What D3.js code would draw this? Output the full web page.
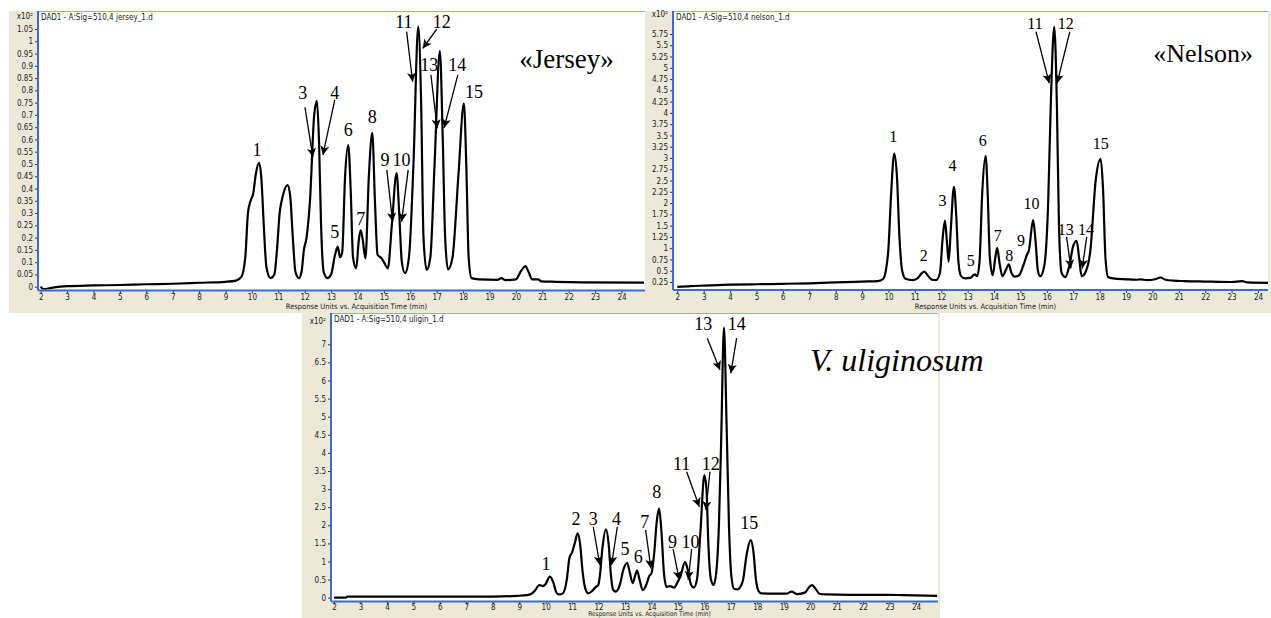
<!DOCTYPE html>
<html>
<head>
<meta charset="utf-8" />
<title>HPLC chromatograms</title>
<style>
body { margin: 0; background: #fff; }
svg { display: block; }
.tick text { font: 8px "Liberation Sans Narrow", "DejaVu Sans Condensed", sans-serif; fill: #222; }
.tick line { stroke: #333; }
.small { font: 8px "Liberation Sans Narrow", "DejaVu Sans Condensed", sans-serif; fill: #222; }
.axis-title { font: 7.5px "Liberation Sans Narrow", "DejaVu Sans Condensed", sans-serif; fill: #222; }
.peak { font-family: "Liberation Serif", "DejaVu Serif", serif; fill: #000; }
.trace { fill: none; stroke: #000; stroke-width: 2.2px; stroke-linejoin: round; }
.arrow { stroke: #000; stroke-width: 1.3px; }
</style>
</head>
<body>
<script src="https://cdn.jsdelivr.net/npm/d3@7"></script>
<script>

// retention time ticks (min), shared by all three traces
var timeTicks = [2,3,4,5,6,7,8,9,10,11,12,13,14,15,16,17,18,19,20,21,22,23,24];

var jerseyTicks = [0,0.05,0.1,0.15,0.2,0.25,0.3,0.35,0.4,0.45,0.5,0.55,0.6,0.65,0.7,0.75,0.8,0.85,0.9,0.95,1,1.05];
var nelsonTicks = [0.25,0.5,0.75,1,1.25,1.5,1.75,2,2.25,2.5,2.75,3,3.25,3.5,3.75,4,4.25,4.5,4.75,5,5.25,5.5,5.75];
var uligTicks = [0,0.5,1,1.5,2,2.5,3,3.5,4,4.5,5,5.5,6,6.5,7];

// [time, response]
var jerseyTrace = [[2.0,0.0],[2.1,-0.01],[2.4,-0.005],[3,0.002],[4,0.005],[5,0.007],[6,0.01],[7,0.012],[8,0.016],[9,0.02],[9.4,0.025],[9.6,0.04],[9.75,0.12],[9.85,0.3],[9.95,0.35],[10.05,0.38],[10.15,0.46],[10.27,0.505],[10.36,0.44],[10.45,0.25],[10.55,0.08],[10.7,0.035],[10.85,0.05],[10.95,0.15],[11.05,0.3],[11.15,0.36],[11.35,0.414],[11.45,0.37],[11.55,0.2],[11.65,0.06],[11.78,0.035],[11.88,0.06],[11.97,0.15],[12.07,0.2],[12.2,0.35],[12.36,0.7],[12.46,0.757],[12.54,0.6],[12.62,0.25],[12.72,0.06],[12.86,0.035],[13.0,0.05],[13.15,0.13],[13.25,0.163],[13.34,0.12],[13.42,0.14],[13.53,0.45],[13.65,0.577],[13.74,0.4],[13.83,0.12],[13.95,0.075],[14.05,0.19],[14.12,0.23],[14.2,0.19],[14.3,0.115],[14.43,0.45],[14.56,0.627],[14.66,0.35],[14.76,0.13],[14.9,0.117],[15.0,0.1],[15.15,0.075],[15.3,0.25],[15.48,0.463],[15.58,0.3],[15.68,0.1],[15.8,0.055],[15.95,0.12],[16.12,0.5],[16.3,1.06],[16.41,0.75],[16.5,0.2],[16.62,0.068],[16.76,0.12],[16.92,0.5],[17.12,0.96],[17.23,0.6],[17.32,0.2],[17.43,0.07],[17.6,0.12],[17.82,0.45],[18.03,0.747],[18.12,0.5],[18.21,0.12],[18.32,0.035],[18.6,0.03],[19.3,0.028],[19.45,0.035],[19.6,0.027],[20.0,0.03],[20.2,0.065],[20.36,0.084],[20.48,0.06],[20.62,0.03],[20.85,0.03],[20.95,0.022],[21.5,0.02],[22.5,0.018],[24.85,0.017]];

var nelsonTrace = [[2.0,0.14],[2.5,0.16],[3,0.17],[4,0.19],[5,0.2],[6,0.21],[7,0.22],[8,0.24],[9,0.26],[9.6,0.27],[9.8,0.32],[9.9,0.5],[10.0,1.0],[10.1,2.2],[10.22,3.1],[10.32,2.6],[10.42,1.2],[10.52,0.5],[10.65,0.32],[10.9,0.29],[11.1,0.33],[11.25,0.44],[11.36,0.48],[11.48,0.4],[11.65,0.3],[11.8,0.29],[11.95,0.45],[12.05,1.2],[12.14,1.61],[12.22,1.1],[12.28,0.7],[12.36,1.4],[12.48,2.36],[12.57,1.7],[12.65,0.7],[12.75,0.38],[12.9,0.33],[13.1,0.34],[13.22,0.4],[13.28,0.42],[13.36,0.38],[13.45,0.7],[13.55,2.2],[13.68,3.05],[13.76,2.2],[13.84,0.8],[13.95,0.4],[14.05,0.8],[14.12,1.01],[14.2,0.7],[14.32,0.38],[14.45,0.52],[14.56,0.64],[14.66,0.45],[14.79,0.37],[14.95,0.4],[15.1,0.6],[15.25,0.86],[15.32,0.95],[15.48,1.62],[15.58,1.1],[15.66,0.5],[15.75,0.38],[15.9,0.6],[16.05,2.0],[16.15,4.2],[16.28,5.91],[16.38,4.2],[16.46,1.5],[16.56,0.45],[16.7,0.36],[16.85,0.6],[17.0,1.05],[17.13,1.16],[17.22,0.8],[17.32,0.38],[17.45,0.45],[17.65,0.95],[17.85,2.5],[18.04,2.98],[18.13,2.3],[18.22,0.8],[18.32,0.36],[18.5,0.33],[19.0,0.31],[19.4,0.3],[19.55,0.31],[19.8,0.29],[20.1,0.31],[20.3,0.35],[20.5,0.3],[20.8,0.28],[21.2,0.27],[22,0.26],[23,0.25],[23.4,0.27],[23.6,0.24],[24.4,0.23]];

var uligTrace = [[2.0,0.0],[2.45,0.0],[2.5,0.03],[4,0.03],[6,0.03],[8,0.03],[8.9,0.05],[9.3,0.07],[9.45,0.1],[9.6,0.2],[9.76,0.35],[9.9,0.32],[10.0,0.38],[10.16,0.58],[10.3,0.4],[10.4,0.15],[10.5,0.09],[10.65,0.12],[10.8,0.5],[10.9,1.1],[11.0,1.25],[11.1,1.5],[11.21,1.78],[11.3,1.5],[11.4,0.7],[11.5,0.25],[11.61,0.12],[11.75,0.18],[11.9,0.3],[11.99,0.35],[12.05,0.6],[12.15,1.4],[12.28,1.89],[12.38,1.5],[12.47,0.6],[12.55,0.22],[12.65,0.17],[12.8,0.35],[12.95,0.8],[13.08,0.96],[13.18,0.7],[13.29,0.4],[13.38,0.6],[13.46,0.75],[13.55,0.5],[13.67,0.21],[13.8,0.35],[13.92,0.6],[14.0,0.67],[14.1,1.2],[14.2,2.1],[14.29,2.47],[14.38,1.8],[14.47,0.7],[14.57,0.3],[14.7,0.32],[14.85,0.28],[15.0,0.45],[15.1,0.6],[15.27,0.99],[15.38,0.75],[15.5,0.35],[15.6,0.28],[15.72,0.5],[15.85,1.8],[16.0,3.39],[16.08,3.0],[16.15,1.5],[16.25,0.5],[16.35,0.35],[16.45,0.7],[16.55,2.0],[16.64,4.5],[16.74,7.46],[16.84,4.8],[16.93,2.0],[17.02,0.6],[17.12,0.25],[17.25,0.23],[17.45,0.45],[17.6,1.2],[17.75,1.59],[17.85,1.3],[17.95,0.5],[18.05,0.18],[18.15,0.12],[18.6,0.11],[19.1,0.11],[19.3,0.17],[19.5,0.1],[19.8,0.14],[19.95,0.28],[20.07,0.35],[20.2,0.25],[20.35,0.11],[20.6,0.09],[21.5,0.08],[23.0,0.08],[23.5,0.07],[24.8,0.05]];

// peak numbers: [label, time, response]
var jerseyLabels = [["1",10.19,0.557],["3",11.93,0.789],["4",13.14,0.789],["5",13.14,0.223],["6",13.65,0.639],["7",14.12,0.279],["8",14.56,0.693],["9",15.04,0.516],["10",15.67,0.516],["11",15.76,1.08],["12",17.19,1.08],["13",16.72,0.903],["14",17.78,0.903],["15",18.41,0.795]];
var nelsonLabels = [["1",10.18,3.47],["2",11.34,0.85],["3",12.05,2.07],["4",12.43,2.84],["5",13.12,0.74],["6",13.57,3.4],["7",14.14,1.29],["8",14.58,0.83],["9",15.02,1.17],["10",15.42,2.0],["11",15.55,5.99],["12",16.72,5.99],["13",16.72,1.42],["14",17.48,1.42],["15",18.04,3.33]];
var uligLabels = [["1",10.01,0.95],["2",11.15,2.19],["3",11.8,2.19],["4",12.68,2.19],["5",13.0,1.34],["6",13.5,1.13],["7",13.75,2.1],["8",14.2,2.93],["9",14.8,1.55],["10",15.48,1.55],["11",15.14,3.71],["12",16.24,3.71],["13",15.96,7.58],["14",17.22,7.58],["15",17.7,2.07]];

// arrows: [t1, v1, t2, v2] (tail -> head)
var jerseyArrows = [[12.01,0.731,12.31,0.528],[13.14,0.761,12.69,0.537],[15.11,0.476,15.33,0.265],[15.92,0.476,15.67,0.265],[15.86,1.039,16.09,0.835],[17.0,1.049,16.47,0.971],[16.78,0.863,17.02,0.645],[17.8,0.863,17.28,0.647]];
var nelsonArrows = [[15.59,5.8,16.09,4.66],[16.87,5.8,16.39,4.66],[16.75,1.25,16.91,0.55],[17.51,1.25,17.34,0.55]];
var uligArrows = [[11.8,1.96,12.05,0.9],[12.71,1.96,12.49,0.9],[13.78,1.87,13.98,0.81],[14.82,1.34,15.05,0.49],[15.52,1.34,15.39,0.49],[15.33,3.48,15.81,2.51],[16.21,3.48,16.06,2.42],[16.11,7.17,16.59,6.29],[17.22,7.17,17.0,6.2]];

var panels = [
  { id: "jersey", file: "DAD1 - A:Sig=510,4 jersey_1.d", trace: jerseyTrace, yTicks: jerseyTicks,
    labels: jerseyLabels, arrows: jerseyArrows, labelSize: 18,
    title: "«Jersey»", titleAt: [21.92, 0.931], titleSize: 27, titleAnchor: "middle", titleItalic: false,
    frame: [9, 11, 636, 302], plot: [38, 11, 645, 290.5], axisTitleY: 309, xPad: 1, axisTitleSize: 7.5,
    xRange: [40.7, 621.5], yDomain: [0, 1.05], yRange: [286.7, 29], unitY: 19 },
  { id: "nelson", file: "DAD1 - A:Sig=510,4 nelson_1.d", trace: nelsonTrace, yTicks: nelsonTicks,
    labels: nelsonLabels, arrows: nelsonArrows, labelSize: 16,
    title: "«Nelson»", titleAt: [21.92, 5.32], titleSize: 26, titleAnchor: "middle", titleItalic: false,
    frame: [645, 11, 626, 302], plot: [673, 11, 1268, 290], axisTitleY: 309, xPad: 1, axisTitleSize: 7.5,
    xRange: [677.3, 1258], yDomain: [0.25, 5.75], yRange: [282, 34], unitY: 17 },
  { id: "ulig", file: "DAD1 - A:Sig=510,4 uligin_1.d", trace: uligTrace, yTicks: uligTicks,
    labels: uligLabels, arrows: uligArrows, labelSize: 18,
    title: "V. uliginosum", titleAt: [19.99, 6.57], titleSize: 32, titleAnchor: "start", titleItalic: true,
    frame: [302, 313, 638, 305], plot: [331, 313, 938, 601.5], axisTitleY: 616.2, xPad: 0, axisTitleSize: 6.5,
    xRange: [334, 916], yDomain: [0, 7], yRange: [597.7, 344.3], unitY: 324 }
];

var width = 1271, height = 618;

var svg = d3.select("body").append("svg")
    .attr("width", width)
    .attr("height", height);

svg.append("rect").attr("width", width).attr("height", height).attr("fill", "#fff");

var defs = svg.append("defs");
defs.append("marker")
    .attr("id", "head")
    .attr("viewBox", "0 0 10 10")
    .attr("refX", 10)
    .attr("refY", 5)
    .attr("markerWidth", 12)
    .attr("markerHeight", 9)
    .attr("markerUnits", "userSpaceOnUse")
    .attr("orient", "auto")
  .append("path")
    .attr("d", "M0,0 L10,5 L0,10 L2.5,5 Z")
    .attr("fill", "#000");

panels.forEach(drawPanel);

function drawPanel(p) {
    var g = svg.append("g").attr("class", "panel " + p.id);
    var left = p.plot[0], top = p.plot[1], right = p.plot[2], bottom = p.plot[3];

    g.append("rect")
        .attr("x", p.frame[0]).attr("y", p.frame[1])
        .attr("width", p.frame[2]).attr("height", p.frame[3])
        .attr("fill", "#ECE9D8");
    g.append("rect")
        .attr("x", left).attr("y", top)
        .attr("width", right - left).attr("height", bottom - top)
        .attr("fill", "#fff");

    var x = d3.scaleLinear().domain([2, 24]).range(p.xRange);
    var y = d3.scaleLinear().domain(p.yDomain).range(p.yRange);

    defs.append("clipPath").attr("id", "clip-" + p.id)
      .append("rect")
        .attr("x", left).attr("y", top)
        .attr("width", right - left).attr("height", bottom - top - 1);

    // axes (ticks + labels only, the blue frame lines are drawn below)
    var yAxis = g.append("g")
        .attr("transform", "translate(" + left + ",0)")
        .call(d3.axisLeft(y).tickValues(p.yTicks).tickSize(3).tickPadding(2).tickFormat(d3.format("~g")));
    yAxis.select(".domain").remove();

    var xAxis = g.append("g")
        .attr("transform", "translate(0," + bottom + ")")
        .call(d3.axisBottom(x).tickValues(timeTicks).tickSize(3).tickPadding(p.xPad).tickFormat(d3.format("d")));
    xAxis.select(".domain").remove();

    g.append("text").attr("class", "small")
        .attr("x", left - 5).attr("y", p.unitY)
        .attr("text-anchor", "end")
        .text("x10²");

    g.append("text").attr("class", "axis-title")
        .attr("x", (left + right) / 2 + 15).attr("y", p.axisTitleY)
        .attr("text-anchor", "middle")
        .style("font-size", p.axisTitleSize + "px")
        .text("Response Units vs. Acquisition Time (min)");

    g.append("text").attr("class", "small")
        .attr("x", left + 3).attr("y", top + 9)
        .text(p.file);

    // frame lines
    g.append("line").attr("x1", left).attr("x2", right).attr("y1", top + 0.5).attr("y2", top + 0.5)
        .attr("stroke", "#8faae0").attr("stroke-width", 1);
    g.append("line").attr("x1", left).attr("x2", right).attr("y1", bottom).attr("y2", bottom)
        .attr("stroke", "#3a6ad4").attr("stroke-width", 2);
    g.append("line").attr("x1", left).attr("x2", left).attr("y1", top).attr("y2", bottom)
        .attr("stroke", "#3a6ad4").attr("stroke-width", 2);

    var line = d3.line()
        .x(function(d) { return x(d[0]); })
        .y(function(d) { return y(d[1]); })
        .curve(d3.curveMonotoneX);

    g.append("path")
        .datum(p.trace)
        .attr("class", "trace")
        .attr("clip-path", "url(#clip-" + p.id + ")")
        .attr("d", line);

    g.selectAll(".arrow")
        .data(p.arrows)
      .enter().append("line")
        .attr("class", "arrow")
        .attr("x1", function(d) { return x(d[0]); })
        .attr("y1", function(d) { return y(d[1]); })
        .attr("x2", function(d) { return x(d[2]); })
        .attr("y2", function(d) { return y(d[3]); })
        .attr("marker-end", "url(#head)");

    g.selectAll(".peak")
        .data(p.labels)
      .enter().append("text")
        .attr("class", "peak")
        .attr("x", function(d) { return x(d[1]); })
        .attr("y", function(d) { return y(d[2]); })
        .attr("dy", "0.35em")
        .attr("text-anchor", "middle")
        .style("font-size", p.labelSize + "px")
        .text(function(d) { return d[0]; });

    g.append("text")
        .attr("class", "peak")
        .attr("x", x(p.titleAt[0]))
        .attr("y", y(p.titleAt[1]))
        .attr("dy", "0.35em")
        .attr("text-anchor", p.titleAnchor)
        .style("font-size", p.titleSize + "px")
        .style("font-style", p.titleItalic ? "italic" : "normal")
        .text(p.title);
}

</script>
</body>
</html>
